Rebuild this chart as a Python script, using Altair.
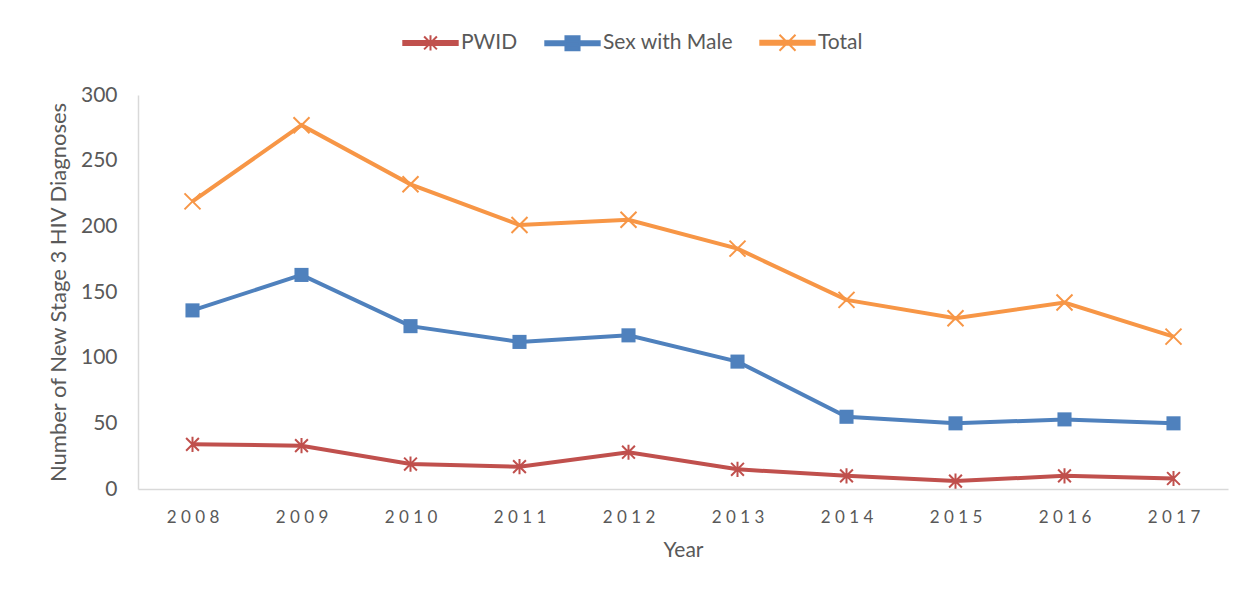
import altair as alt
import pandas as pd

years = [2008, 2009, 2010, 2011, 2012, 2013, 2014, 2015, 2016, 2017]
series_names = ["PWID", "Sex with Male", "Total"]
pwid = [34, 33, 19, 17, 28, 15, 10, 6, 10, 8]
sex_with_male = [136, 163, 124, 112, 117, 97, 55, 50, 53, 50]
total = [219, 277, 232, 201, 205, 183, 144, 130, 142, 116]
y_ticks = [0, 50, 100, 150, 200, 250, 300]

colors = ["#C0504D", "#4F81BD", "#F79646"]
marker_paths = [
    "M-0.8,-0.8L0.8,0.8M-0.8,0.8L0.8,-0.8M0,-0.95L0,0.95",
    "M-0.88,-0.88H0.88V0.88H-0.88Z",
    "M-1,-1L1,1M-1,1L1,-1",
]
marker_filled = [False, True, False]
bar = "M-3.4,-0.25H3.4V0.25H-3.4Z"
legend_paths = [bar + p for p in marker_paths]

rows = []
for name, vals in zip(series_names, [pwid, sex_with_male, total]):
    for yr, v in zip(years, vals):
        rows.append({"Year": yr, "series": name, "value": v})
df = pd.DataFrame(rows)

FONT = "Lato"
TXT = "#595959"

x_enc = alt.X(
    "Year:O",
    axis=alt.Axis(
        title="Year", labelAngle=0, ticks=False, domainColor="#D9D9D9", domainWidth=1.5,
        labelPadding=20, labelFontSize=17, labelColor=TXT, labelFont=FONT,
        labelExpr="join(split(datum.label, ''), ' ')",
        titleFontSize=21, titleColor=TXT, titleFont=FONT, titleFontWeight="normal", titlePadding=14,
    ),
)
y_enc = alt.Y(
    "value:Q",
    scale=alt.Scale(domain=[0, 300], nice=False),
    axis=alt.Axis(
        title="Number of New Stage 3 HIV Diagnoses", values=y_ticks, grid=False, ticks=False,
        domainColor="#D9D9D9", domainWidth=1.5, labelPadding=21, labelFontSize=21,
        labelColor=TXT, labelFont=FONT, titleFontSize=22, titleColor=TXT, titleFont=FONT,
        titleFontWeight="normal", titlePadding=10,
    ),
)

base = alt.Chart(df)

layers = []
for name, col in zip(series_names, colors):
    layers.append(
        base.transform_filter(alt.datum.series == name)
        .mark_line(strokeWidth=4, color=col)
        .encode(x=x_enc, y=y_enc)
    )
for name, path, col, filled in zip(series_names, marker_paths, colors, marker_filled):
    layers.append(
        base.transform_filter(alt.datum.series == name)
        .mark_point(shape=path, size=256, strokeWidth=2, opacity=1, filled=filled, color=col)
        .encode(x=x_enc, y=y_enc)
    )

leg = alt.Legend(
    title=None, orient="none", direction="horizontal", legendX=282, legendY=-63,
    labelFontSize=21, labelColor=TXT, labelFont=FONT, symbolSize=256,
    labelOffset=20, columnPadding=23, symbolOpacity=1, symbolStrokeWidth=2,
)
legend_layer = base.transform_filter("false").mark_point(size=256, opacity=1, strokeWidth=2).encode(
    x=x_enc,
    y=y_enc,
    shape=alt.Shape("series:N", scale=alt.Scale(domain=series_names, range=legend_paths), legend=leg),
    fill=alt.Fill("series:N", scale=alt.Scale(domain=series_names, range=colors), legend=leg),
    stroke=alt.Stroke("series:N", scale=alt.Scale(domain=series_names, range=colors), legend=leg),
)
layers.append(legend_layer)

chart = alt.layer(*layers).properties(
    width=1090, height=394,
    background="white",
    autosize=alt.AutoSizeParams(type="none"),
    padding={"left": 130, "top": 87, "right": 15, "bottom": 97},
).configure_view(stroke=None)

chart.save("out.html", embed_options={"renderer": "svg", "actions": False})
